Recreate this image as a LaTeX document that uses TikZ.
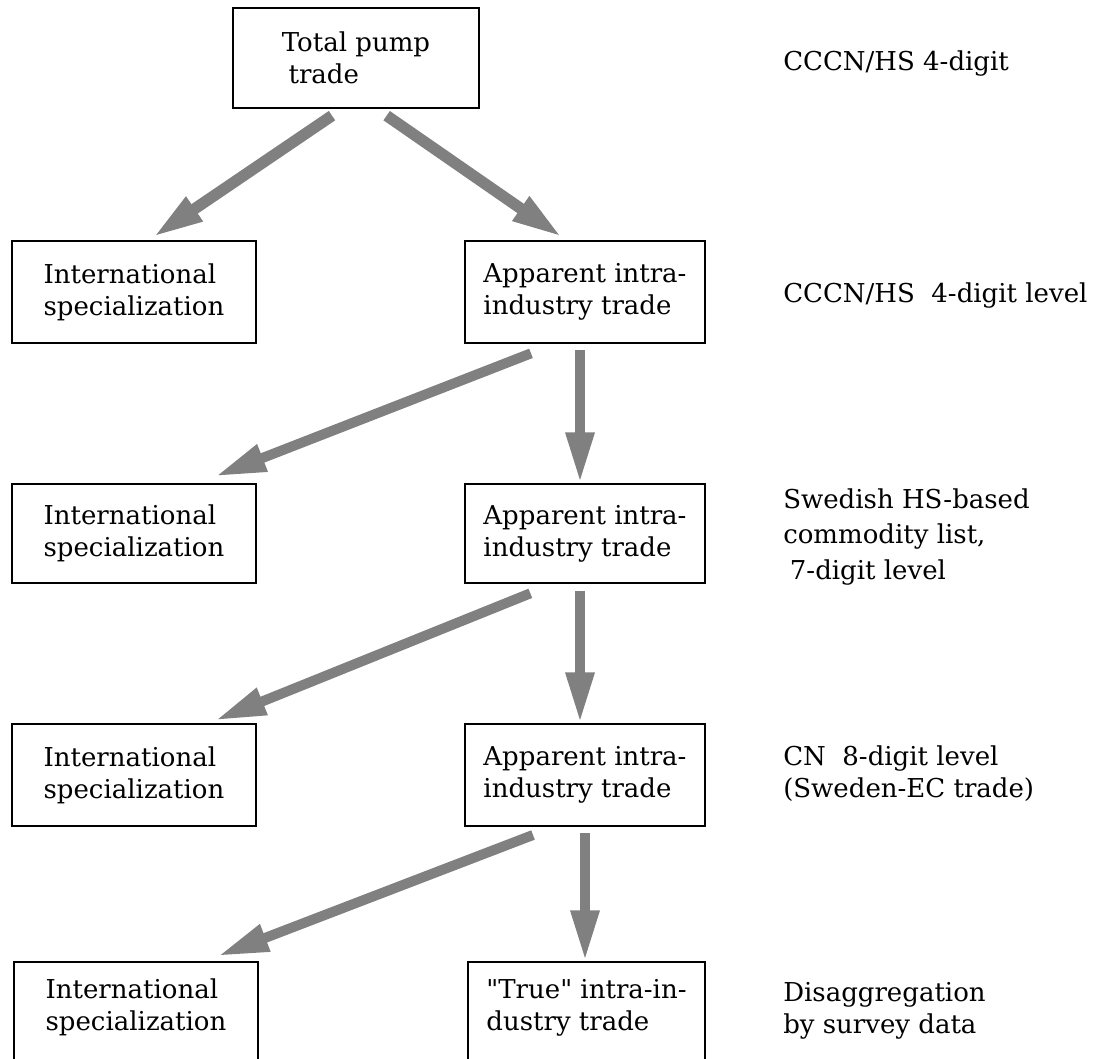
\documentclass[tikz,border=0pt]{standalone}
\usepackage{fontspec}
\setmainfont{DejaVu Serif}
\usetikzlibrary{arrows.meta}
\definecolor{arrowgray}{RGB}{128,128,128}
\newcommand\straightquote{\XeTeXglyph\XeTeXcharglyph"22\relax}

\begin{document}
\begin{tikzpicture}[x=0.75pt,y=-0.75pt,
  font=\fontsize{19.5pt}{24pt}\selectfont,
  box/.style={draw,line width=1.5pt,align=left,inner sep=0pt,minimum width=183pt,minimum height=76.5pt},
  rbox/.style={box,minimum width=180pt},
  fat/.style={draw=arrowgray,line width=7.5pt,-{Triangle[length=38pt,width=20pt]}},
  level/.style={align=left,anchor=base west,inner sep=0pt}]
\useasboundingbox (0,0) rectangle (1106,1059);

% boxes, top to bottom
\node[box,minimum width=184.5pt,minimum height=75pt] (total) at (356,58) {Total pump\\\hspace{5pt}trade};

\node[box] (spec2) at (134,292) {International\\specialization};
\node[rbox] (app2) at (585,292) {Apparent intra-\\industry trade};

\node[box,minimum height=74.25pt] (spec3) at (134,533.5) {International\\specialization};
\node[rbox,minimum height=74.25pt] (app3) at (585,533.5) {Apparent intra-\\industry trade};

\node[box] (spec4) at (134,775) {International\\specialization};
\node[rbox] (app4) at (585,775) {Apparent intra-\\industry trade};

%last row runs off the page
\node[box,anchor=base,text height=51pt,text depth=60pt] (spec5) at (136,1030) {International\\specialization};
\node[rbox,minimum width=177.75pt,anchor=base,text height=51pt,text depth=60pt] (true5) at (586.5,1030) {\straightquote True\straightquote{} intra-in-\\dustry trade};

% arrows
\draw[fat,line width=8.5pt] ([xshift=-18pt,yshift=-5pt]total.south) -- ([xshift=14pt,yshift=2pt]spec2.north);
\draw[fat,line width=8.5pt] ([xshift=23pt,yshift=-5pt]total.south) -- ([xshift=-17pt,yshift=2pt]app2.north);

\draw[fat] ([xshift=-40.5pt,yshift=-7pt]app2.south) -- ([xshift=61pt,yshift=5pt]spec3.north);
\draw[fat] ([xshift=-3.75pt,yshift=-4.5pt]app2.south) -- ([xshift=-3.75pt]app3.north);

\draw[fat] ([xshift=-41pt,yshift=-7pt]app3.south) -- ([xshift=61pt,yshift=2pt]spec4.north);
\draw[fat] ([xshift=-3.75pt,yshift=-5pt]app3.south) -- ([xshift=-3.75pt]app4.north);

\draw[fat] ([xshift=-39pt,yshift=-6pt]app4.south) -- ([xshift=61.5pt,yshift=3.75pt]spec5.north);
\draw[fat] ([yshift=-4.5pt]app4.south) -- (app4.south |- true5.north);

% classification levels on the right
\node[level] (lev1) at (783,71) {CCCN/HS 4-digit};
\node[level] (lev2) at (783,302) {CCCN/HS~~4-digit level};
\node[level] (lev3) at (783,579) {Swedish HS-based\\[2.5pt]commodity list,\\[2.5pt]\hspace{5pt}7-digit level};
\node[level] (lev4) at (783,797) {CN~~8-digit level\\(Sweden-EC trade)};
\node[level] (lev5) at (783,1033) {Disaggregation\\by survey data};

\end{tikzpicture}
\end{document}
